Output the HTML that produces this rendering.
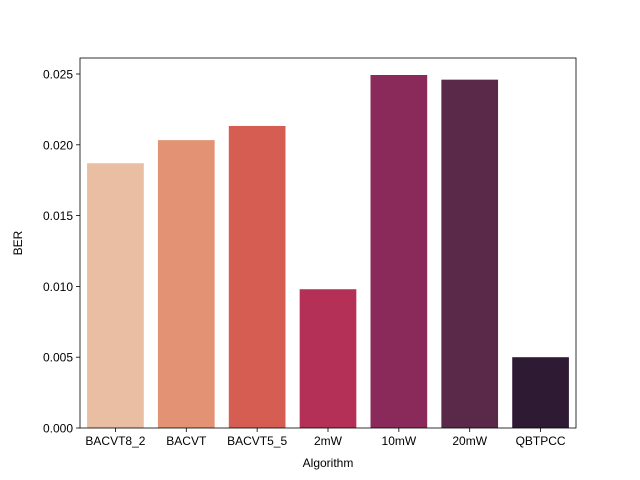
<!DOCTYPE html>
<html><head><meta charset="utf-8"><style>
body{margin:0;background:#fff;}
svg{display:block;font-family:"Liberation Sans","DejaVu Sans",sans-serif;}
</style></head><body>
<svg id="chart" width="640" height="480"></svg>
<script>
const categories=["BACVT8_2","BACVT","BACVT5_5","2mW","10mW","20mW","QBTPCC"];
const berValues=[0.01870,0.02033,0.02133,0.00980,0.02493,0.02460,0.00500];
const barColors=["#EABEA3","#E39273","#D65D51","#B53056","#8A2A5B","#5A2849","#2E1B33"];
const yTicks=[0,0.005,0.010,0.015,0.020,0.025];
const yTickLabels=["0.000","0.005","0.010","0.015","0.020","0.025"];
const L=80,R=576,T=58,B=428,yMax=0.02613;
const NS="http://www.w3.org/2000/svg";
const svg=document.getElementById('chart');
function y(v){return B-(v/yMax)*(B-T);}
const step=(R-L)/categories.length;
function xc(i){return L+step*(i+0.5);}
function mk(t,a,txt){const e=document.createElementNS(NS,t);for(const k in a)e.setAttribute(k,a[k]);if(txt!==undefined)e.textContent=txt;svg.appendChild(e);return e;}
categories.forEach((c,i)=>{
  const bw=step*0.8,v=berValues[i];
  const r=mk('rect',{x:xc(i)-bw/2,y:y(v),width:bw,height:B-y(v),fill:barColors[i]});
  
  
  mk('line',{x1:xc(i),x2:xc(i),y1:B,y2:B+4,stroke:'#000','stroke-width':0.8});
  const t=mk('text',{x:xc(i),y:B+17,'text-anchor':'middle','font-size':12},c);
  
  
});
yTicks.forEach((v,i)=>{
  mk('line',{x1:L-4,x2:L,y1:y(v),y2:y(v),stroke:'#000','stroke-width':0.8});
  const t=mk('text',{x:L-7,y:y(v)+4.5,'text-anchor':'end','font-size':12},yTickLabels[i]);
  
  
});
const fr=mk('rect',{x:L,y:T,width:R-L,height:B-T,fill:'none',stroke:'#000','stroke-width':0.8});


const xt=mk('text',{x:(L+R)/2,y:467,'text-anchor':'middle','font-size':12},'Algorithm');


const yt=mk('text',{x:22,y:(T+B)/2,'text-anchor':'middle','font-size':12,transform:'rotate(-90 22 '+((T+B)/2)+')'},'BER');


</script>
</body></html>
